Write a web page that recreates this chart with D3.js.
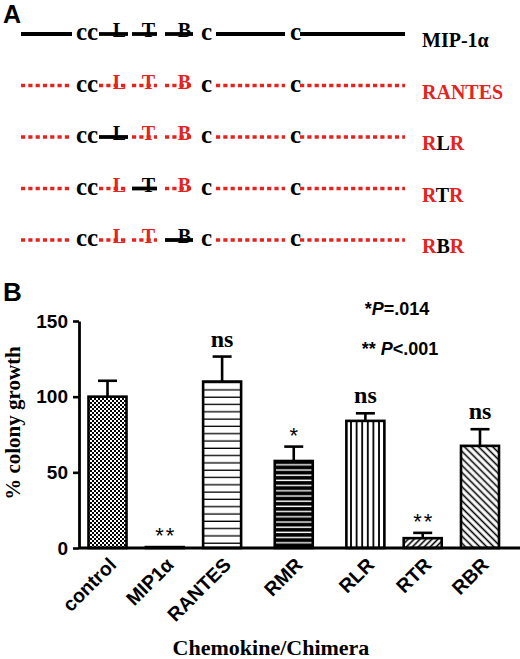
<!DOCTYPE html>
<html>
<head>
<meta charset="utf-8">
<script src="https://cdn.jsdelivr.net/npm/d3@7"></script>
<style>
  body { margin: 0; background: #fff; }
  svg { display: block; }
  .serif { font-family: "Liberation Serif", "Times New Roman", serif; font-weight: bold; }
  .sans { font-family: "Liberation Sans", Arial, sans-serif; font-weight: bold; }
</style>
</head>
<body>
<svg id="fig" width="520" height="659"></svg>
<script>
// ---- Panel A: chimera constructs ----
const constructs = ["MIP-1α", "RANTES", "RLR", "RTR", "RBR"]
const loops = ["L", "T", "B"]
// which parent each loop comes from (M = MIP-1α, R = RANTES)
const loopSource = [
  ["M", "M", "M"],
  ["R", "R", "R"],
  ["M", "R", "R"],
  ["R", "M", "R"],
  ["R", "R", "M"]
]
const backbone = ["M", "R", "R", "R", "R"]

// ---- Panel B: colony growth ----
const chemokines = ["control", "MIP1α", "RANTES", "RMR", "RLR", "RTR", "RBR"]
const growth = [100, 0.6, 110, 57.5, 84, 6.5, 67.5]
const growthSem = [10.5, 0, 16.5, 9.5, 5, 3.5, 11]
const significance = ["", "**", "ns", "*", "ns", "**", "ns"]
const group = [0, 0, 0, 1, 2, 2, 2]
const yTicks = [0, 50, 100, 150]

const red = "#e5231f"
const svg = d3.select("#fig")

// ================= A =================
const gA = svg.append("g")
gA.append("text").attr("class", "sans")
  .attr("x", 3).attr("y", 23).attr("font-size", 25).text("A")

const rowY = d3.scalePoint().domain(constructs).range([34, 240])

// schematic layout (px): N-term, L, T, B, middle, C-term
const segs = [[21, 72], [99, 128], [132, 157], [165, 193], [216, 285], [300, 405]]

const lineStyle = (sel, src) => sel
  .attr("stroke", src === "M" ? "#000" : red)
  .attr("stroke-width", src === "M" ? 3.8 : 3.6)
  .attr("stroke-dasharray", src === "M" ? null : "4.2,3.1")

constructs.forEach((name, i) => {
  const y = rowY(name)
  const row = gA.append("g")
  const srcs = [backbone[i], ...loopSource[i], backbone[i], backbone[i]]
  segs.forEach((s, j) => {
    row.append("line")
      .attr("x1", s[0]).attr("x2", s[1])
      .attr("y1", y).attr("y2", y)
      .call(lineStyle, srcs[j])
  })
  // loop letters
  loopSource[i].forEach((src, j) => {
    row.append("text").attr("class", "serif")
      .attr("x", segs[j + 1][1] - 2).attr("y", y + 3)
      .attr("text-anchor", "end").attr("font-size", 20)
      .attr("fill", src === "M" ? "#000" : red)
      .text(loops[j])
  })
  // cysteines
  row.append("text").attr("class", "serif").attr("font-size", 25)
    .attr("x", 76).attr("y", y + 6).text("cc")
  row.append("text").attr("class", "serif").attr("font-size", 25)
    .attr("x", 201).attr("y", y + 6).text("c")
  row.append("text").attr("class", "serif").attr("font-size", 25)
    .attr("x", 290).attr("y", y + 6).text("c")

  // construct label, coloured by parent
  const lab = row.append("text").attr("class", "serif")
    .attr("x", 422).attr("y", y + 13).attr("font-size", 20)
  if (name === "MIP-1α") {
    lab.attr("fill", "#000").text(name)
  } else if (name === "RANTES") {
    lab.attr("fill", red).text(name)
  } else {
    name.split("").forEach((ch, k) => {
      lab.append("tspan").attr("fill", k === 1 ? "#000" : red).text(ch)
    })
  }
})

// ================= B =================
svg.append("text").attr("class", "sans")
  .attr("x", 3).attr("y", 301).attr("font-size", 26).text("B")

// fill patterns
const defs = svg.append("defs")
const checker = defs.append("pattern").attr("id", "p-check")
  .attr("patternUnits", "userSpaceOnUse").attr("width", 4).attr("height", 4)
checker.append("rect").attr("width", 4).attr("height", 4).attr("fill", "#fff")
checker.append("rect").attr("width", 2).attr("height", 2).attr("fill", "#000")
checker.append("rect").attr("x", 2).attr("y", 2).attr("width", 2).attr("height", 2).attr("fill", "#000")

const hThin = defs.append("pattern").attr("id", "p-hthin")
  .attr("patternUnits", "userSpaceOnUse").attr("width", 10).attr("height", 7.3)
hThin.append("rect").attr("width", 10).attr("height", 7.3).attr("fill", "#fff")
hThin.append("line").attr("x1", 0).attr("x2", 10).attr("y1", 3).attr("y2", 3)
  .attr("stroke", "#000").attr("stroke-width", 1.3)

const hThick = defs.append("pattern").attr("id", "p-hthick")
  .attr("patternUnits", "userSpaceOnUse").attr("width", 10).attr("height", 5.2)
hThick.append("rect").attr("width", 10).attr("height", 5.2).attr("fill", "#000")
hThick.append("line").attr("x1", 0).attr("x2", 10).attr("y1", 2).attr("y2", 2)
  .attr("stroke", "#fff").attr("stroke-width", 1.4)

const vLines = defs.append("pattern").attr("id", "p-vert")
  .attr("patternUnits", "userSpaceOnUse").attr("width", 5.6).attr("height", 10)
  .attr("x", 1)
vLines.append("rect").attr("width", 5.6).attr("height", 10).attr("fill", "#fff")
vLines.append("line").attr("x1", 2.8).attr("x2", 2.8).attr("y1", 0).attr("y2", 10)
  .attr("stroke", "#000").attr("stroke-width", 1.8)

const diag = (id, angle, gap) => {
  const p = defs.append("pattern").attr("id", id)
    .attr("patternUnits", "userSpaceOnUse").attr("width", gap).attr("height", 10)
    .attr("patternTransform", `rotate(${angle})`)
  p.append("rect").attr("width", gap).attr("height", 10).attr("fill", "#fff")
  p.append("line").attr("x1", gap / 2).attr("x2", gap / 2).attr("y1", 0).attr("y2", 10)
    .attr("stroke", "#000").attr("stroke-width", 1.6)
}
diag("p-fwd", 45, 4.2)
diag("p-back", -45, 5)

const fills = ["url(#p-check)", "#000", "url(#p-hthin)", "url(#p-hthick)",
  "url(#p-vert)", "url(#p-fwd)", "url(#p-back)"]

// x position: one slot per bar, plus a little extra gap between groups
const groupGap = 0.25
const slot = chemokines.map((c, i) => i + group[i] * groupGap)
const x = d3.scaleLinear().domain([0, d3.max(slot)]).range([107.5, 480])
const y = d3.scaleLinear().domain([0, 150]).range([548, 321])
const barW = 38

const bars = chemokines.map((c, i) => ({
  name: c, value: growth[i], sem: growthSem[i], sig: significance[i],
  cx: x(slot[i]), fill: fills[i]
}))

const gB = svg.append("g")

// error bars
const err = gB.append("g").selectAll("g")
  .data(bars.filter(d => d.sem > 0))
  .enter().append("g")
err.append("line")
  .attr("x1", d => d.cx).attr("x2", d => d.cx)
  .attr("y1", d => y(d.value)).attr("y2", d => y(d.value + d.sem))
  .attr("stroke", "#000").attr("stroke-width", 2.6)
err.append("line")
  .attr("x1", d => d.cx - 9.5).attr("x2", d => d.cx + 9.5)
  .attr("y1", d => y(d.value + d.sem)).attr("y2", d => y(d.value + d.sem))
  .attr("stroke", "#000").attr("stroke-width", 2.6)

gB.append("g").selectAll("rect")
  .data(bars)
  .enter().append("rect")
  .attr("x", d => d.cx - barW / 2)
  .attr("width", barW)
  .attr("y", d => y(d.value))
  .attr("height", d => y(0) - y(d.value))
  .attr("fill", d => d.fill)
  .attr("stroke", "#000")
  .attr("stroke-width", 2.6)

// significance marks
gB.append("g").selectAll("text")
  .data(bars.filter(d => d.sig))
  .enter().append("text")
  .attr("class", d => d.sig === "ns" ? "serif" : "")
  .attr("font-family", d => d.sig === "ns" ? null : "Liberation Sans, Arial, sans-serif")
  .attr("font-size", d => d.sig === "ns" ? 24 : 22)
  .attr("letter-spacing", d => d.sig === "ns" ? 0 : 2)
  .attr("text-anchor", "middle")
  .attr("x", d => d.cx + (d.sig === "ns" ? 0 : 1))
  .attr("y", d => y(d.value + d.sem) - (d.sig === "ns" ? 10 : 4))
  .text(d => d.sig)

// axes
const yAxis = gB.append("g")
  .attr("transform", `translate(${x.range()[0] - 28.5},0)`)
  .call(d3.axisLeft(y).tickValues(yTicks).tickSize(6).tickSizeOuter(0).tickPadding(5))
yAxis.select(".domain").attr("stroke-width", 2.8)
yAxis.selectAll(".tick line").attr("stroke-width", 2.6)
yAxis.selectAll(".tick text")
  .attr("class", "sans").attr("font-size", 19).attr("fill", "#000")

gB.append("line")
  .attr("x1", x.range()[0] - 28.5).attr("x2", 520)
  .attr("y1", y(0)).attr("y2", y(0))
  .attr("stroke", "#000").attr("stroke-width", 2.8)

// category labels
gB.append("g").selectAll("text")
  .data(bars)
  .enter().append("text")
  .attr("class", "sans")
  .attr("font-size", 19.5)
  .attr("text-anchor", "end")
  .attr("transform", d => `translate(${d.cx + 10},566) rotate(-45)`)
  .text(d => d.name)

// axis titles
svg.append("text").attr("class", "serif")
  .attr("font-size", 21).attr("text-anchor", "middle")
  .attr("transform", "translate(20,423) rotate(-90)")
  .text("% colony growth")

svg.append("text").attr("class", "serif")
  .attr("font-size", 22).attr("text-anchor", "middle")
  .attr("x", 271).attr("y", 655)
  .text("Chemokine/Chimera")

// p-value key
const key = svg.append("g").attr("class", "sans").attr("font-size", 18)
  .attr("text-anchor", "middle")
const k1 = key.append("text").attr("x", 397).attr("y", 315)
k1.append("tspan").text("*")
k1.append("tspan").attr("font-style", "italic").text("P")
k1.append("tspan").text("=.014")
const k2 = key.append("text").attr("x", 400).attr("y", 355)
k2.append("tspan").text("** ")
k2.append("tspan").attr("font-style", "italic").text("P")
k2.append("tspan").text("<.001")
</script>
</body>
</html>
